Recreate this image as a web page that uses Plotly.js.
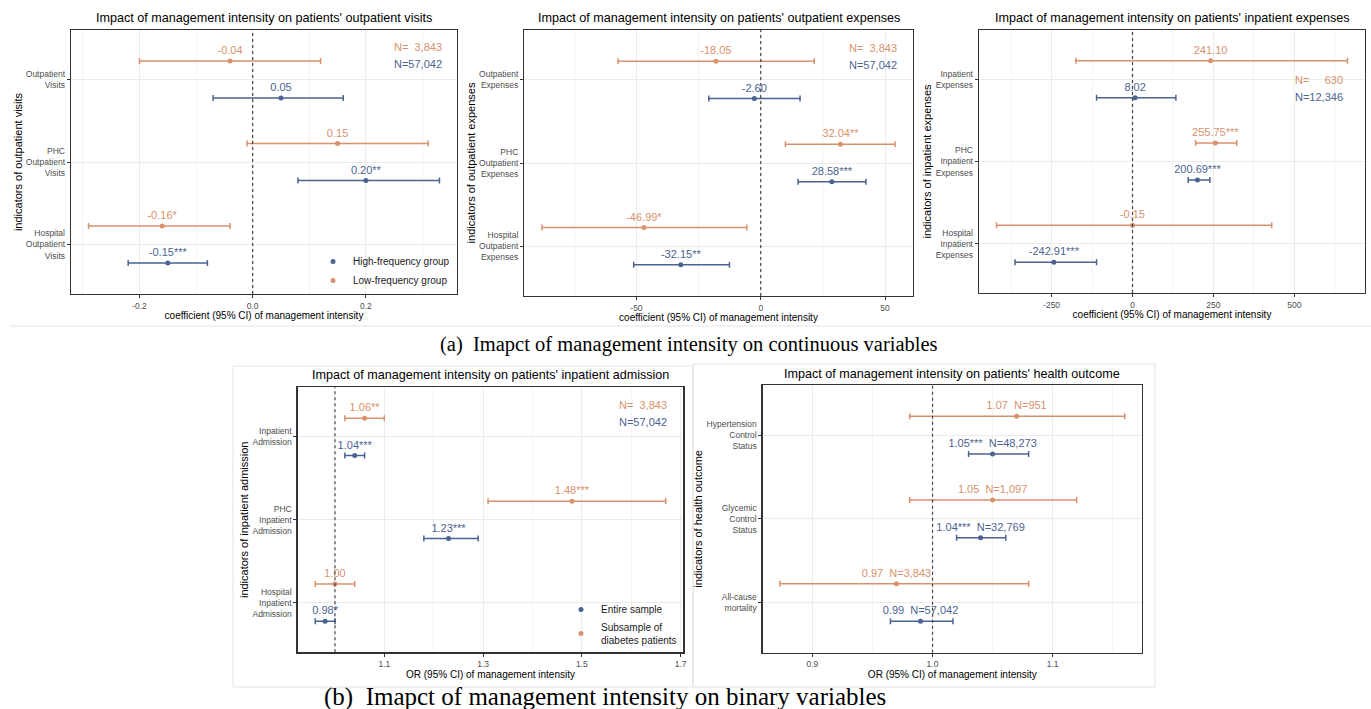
<!DOCTYPE html>
<html><head><meta charset="utf-8">
<script src="https://cdn.plot.ly/plotly-3.0.1.min.js"></script>
<style>html,body{margin:0;padding:0;background:#fff}</style>
</head><body><div id="chart" style="width:1371px;height:709px"></div>
<script>
// ---------------- data ----------------
// Panel 1: outpatient visits
const p1Categories = ['Outpatient<br>Visits', 'PHC<br>Outpatient<br>Visits', 'Hospital<br>Outpatient<br>Visits'];
const p1HighEst = [0.05, 0.20, -0.15];
const p1HighLow = [-0.07, 0.08, -0.22];
const p1HighUp  = [0.16, 0.33, -0.08];
const p1HighLabel = ['0.05', '0.20**', '-0.15***'];
const p1LowEst = [-0.04, 0.15, -0.16];
const p1LowLow = [-0.20, -0.01, -0.29];
const p1LowUp  = [0.12, 0.31, -0.04];
const p1LowLabel = ['-0.04', '0.15', '-0.16*'];
const p1TickVals = [-0.2, 0, 0.2];
const p1TickText = ['-0.2', '0.0', '0.2'];
const p1MinorVals = [-0.3, -0.1, 0.1, 0.3];

// Panel 2: outpatient expenses
const p2Categories = ['Outpatient<br>Expenses', 'PHC<br>Outpatient<br>Expenses', 'Hospital<br>Outpatient<br>Expenses'];
const p2HighEst = [-2.60, 28.58, -32.15];
const p2HighLow = [-20.9, 15.0, -51.1];
const p2HighUp  = [15.8, 42.3, -12.6];
const p2HighLabel = ['-2.60', '28.58***', '-32.15**'];
const p2LowEst = [-18.05, 32.04, -46.99];
const p2LowLow = [-57.4, 9.9, -88.0];
const p2LowUp  = [21.5, 54.0, -5.6];
const p2LowLabel = ['-18.05', '32.04**', '-46.99*'];
const p2TickVals = [-50, 0, 50];
const p2TickText = ['-50', '0', '50'];
const p2MinorVals = [-75, -25, 25];

// Panel 3: inpatient expenses
const p3Categories = ['Inpatient<br>Expenses', 'PHC<br>Inpatient<br>Expenses', 'Hospital<br>Inpatient<br>Expenses'];
const p3HighEst = [8.02, 200.69, -242.91];
const p3HighLow = [-111, 172, -363];
const p3HighUp  = [134, 239, -111];
const p3HighLabel = ['8.02', '200.69***', '-242.91***'];
const p3LowEst = [241.10, 255.75, -0.15];
const p3LowLow = [-175, 195, -420];
const p3LowUp  = [664, 322, 430];
const p3LowLabel = ['241.10', '255.75***', '-0.15'];
const p3TickVals = [-250, 0, 250, 500];
const p3TickText = ['-250', '0', '250', '500'];
const p3MinorVals = [-375, -125, 125, 375, 625];

// Panel 4: inpatient admission (OR)
const p4Categories = ['Inpatient<br>Admission', 'PHC<br>Inpatient<br>Admission', 'Hospital<br>Inpatient<br>Admission'];
const p4HighEst = [1.04, 1.23, 0.98];
const p4HighLow = [1.02, 1.18, 0.96];
const p4HighUp  = [1.06, 1.29, 1.00];
const p4HighLabel = ['1.04***', '1.23***', '0.98*'];
const p4LowEst = [1.06, 1.48, 1.00];
const p4LowLow = [1.02, 1.31, 0.96];
const p4LowUp  = [1.10, 1.67, 1.04];
const p4LowLabel = ['1.06**', '1.48***', '1.00'];
const p4TickVals = [1.1, 1.3, 1.5, 1.7];
const p4TickText = ['1.1', '1.3', '1.5', '1.7'];
const p4MinorVals = [1.0, 1.2, 1.4, 1.6];

// Panel 5: health outcome (OR)
const p5Categories = ['Hypertension<br>Control<br>Status', 'Glycemic<br>Control<br>Status', 'All-cause<br>mortality'];
const p5HighEst = [1.05, 1.04, 0.99];
const p5HighLow = [1.03, 1.02, 0.965];
const p5HighUp  = [1.08, 1.061, 1.017];
const p5HighLabel = ['1.05***\u00a0\u00a0N=48,273', '1.04***\u00a0\u00a0N=32,769', '0.99\u00a0\u00a0N=57,042'];
const p5LowEst = [1.07, 1.05, 0.97];
const p5LowLow = [0.981, 0.981, 0.873];
const p5LowUp  = [1.160, 1.120, 1.080];
const p5LowLabel = ['1.07\u00a0\u00a0N=951', '1.05\u00a0\u00a0N=1,097', '0.97\u00a0\u00a0N=3,843'];
const p5TickVals = [0.9, 1.0, 1.1];
const p5TickText = ['0.9', '1.0', '1.1'];
const p5MinorVals = [0.95, 1.05, 1.15];

// sample sizes shown in the corner
const p1N = ['N=\u00a0\u00a03,843', 'N=57,042'];
const p2N = ['N=\u00a0\u00a03,843', 'N=57,042'];
const p3N = ['N=\u00a0\u00a0\u00a0\u00a0\u00a0630', 'N=12,346'];
const p4N = ['N=\u00a0\u00a03,843', 'N=57,042'];

// ---------------- layout helpers ----------------
const W = 1371, H = 709;
const BLUE = '#4b6390', ORANGE = '#d8916c';
const FONT = 'Arial, "Liberation Sans", sans-serif';
const fx = v => v / W;
const fy = v => 1 - v / H;

const panels = [
  {n: 1, box: [71, 457, 30, 294], cats: p1Categories,
   high: [p1HighEst, p1HighLow, p1HighUp, p1HighLabel], low: [p1LowEst, p1LowLow, p1LowUp, p1LowLabel],
   tv: p1TickVals, tt: p1TickText, mv: p1MinorVals, ref: 0,
   title: "Impact of management intensity on patients' outpatient visits", titleY: 18,
   xtitle: 'coefficient (95% CI) of management intensity', ytitle: 'indicators of outpatient visits',
   names: ['High-frequency group', 'Low-frequency group'], legend: 'legend',
   N: p1N, nPos: [444, 47, 64]},
  {n: 2, box: [524.3, 912.7, 30, 296], cats: p2Categories,
   high: [p2HighEst, p2HighLow, p2HighUp, p2HighLabel], low: [p2LowEst, p2LowLow, p2LowUp, p2LowLabel],
   tv: p2TickVals, tt: p2TickText, mv: p2MinorVals, ref: 0,
   title: "Impact of management intensity on patients' outpatient expenses", titleY: 18,
   xtitle: 'coefficient (95% CI) of management intensity', ytitle: 'indicators of outpatient expenses',
   names: ['High-frequency group', 'Low-frequency group'], legend: null,
   N: p2N, nPos: [899, 48, 65]},
  {n: 3, box: [979, 1365, 30, 293], cats: p3Categories,
   high: [p3HighEst, p3HighLow, p3HighUp, p3HighLabel], low: [p3LowEst, p3LowLow, p3LowUp, p3LowLabel],
   tv: p3TickVals, tt: p3TickText, mv: p3MinorVals, ref: 0,
   title: "Impact of management intensity on patients' inpatient expenses", titleY: 18,
   xtitle: 'coefficient (95% CI) of management intensity', ytitle: 'indicators of inpatient expenses',
   names: ['High-frequency group', 'Low-frequency group'], legend: null,
   N: p3N, nPos: [1345, 80, 97]},
  {n: 4, box: [297.7, 683.3, 387.3, 652.3], cats: p4Categories,
   high: [p4HighEst, p4HighLow, p4HighUp, p4HighLabel], low: [p4LowEst, p4LowLow, p4LowUp, p4LowLabel],
   tv: p4TickVals, tt: p4TickText, mv: p4MinorVals, ref: 1,
   title: "Impact of management intensity on patients' inpatient admission", titleY: 375.5,
   xtitle: 'OR (95% CI) of management intensity', ytitle: 'indicators of inpatient admission',
   names: ['Entire sample', 'Subsample of<br>diabetes patients'], legend: 'legend2',
   N: p4N, nPos: [669, 405, 421.7]},
  {n: 5, box: [762.7, 1142, 385, 652.7], cats: p5Categories,
   high: [p5HighEst, p5HighLow, p5HighUp, p5HighLabel], low: [p5LowEst, p5LowLow, p5LowUp, p5LowLabel],
   tv: p5TickVals, tt: p5TickText, mv: p5MinorVals, ref: 1,
   title: "Impact of management intensity on patients' health outcome", titleY: 374,
   xtitle: 'OR (95% CI) of management intensity', ytitle: 'indicators of health outcome',
   names: ['Entire sample', 'Subsample'], legend: null,
   N: null}
];

const data = [];
const layout = {
  width: W, height: H, margin: {l: 0, r: 0, t: 0, b: 0},
  paper_bgcolor: '#fff', plot_bgcolor: '#fff',
  font: {family: FONT, color: '#000'},
  showlegend: true, hovermode: false,
  annotations: [], shapes: [],
  legend: {x: fx(313), y: fy(247), xanchor: 'left', yanchor: 'top', font: {size: 10, family: FONT, color: '#1a1a1a'},
           bgcolor: 'rgba(255,255,255,0)', itemwidth: 30, tracegroupgap: 0},
  legend2: {x: fx(561), y: fy(595), xanchor: 'left', yanchor: 'top', font: {size: 10, family: FONT, color: '#1a1a1a'},
            bgcolor: 'rgba(255,255,255,0)', itemwidth: 30, tracegroupgap: 0}
};

const catPos = [3, 2, 1];
const DODGE = 0.225;

panels.forEach(p => {
  const n = p.n;
  const xa = 'x' + n, ya = 'y' + n;
  const allLow = p.high[1].concat(p.low[1]);
  const allUp = p.high[2].concat(p.low[2]);
  const lo = Math.min(...allLow), hi = Math.max(...allUp);
  const pad = (hi - lo) * 0.05;

  const series = [
    {d: p.high, color: BLUE, name: p.names[0], off: -DODGE},
    {d: p.low, color: ORANGE, name: p.names[1], off: DODGE}
  ];
  series.forEach(s => {
    const [est, low, up, lab] = s.d;
    const tr = {
      type: 'scatter', mode: 'markers+text',
      x: est, y: catPos.map(c => c + s.off),
      xaxis: xa, yaxis: ya,
      name: s.name,
      marker: {color: s.color, size: 5},
      error_x: {type: 'data', symmetric: false,
                array: est.map((e, i) => up[i] - e),
                arrayminus: est.map((e, i) => e - low[i]),
                color: s.color, thickness: 1.5, width: 3},
      text: lab, textposition: 'top center',
      textfont: {color: s.color, size: 11, family: FONT},
      cliponaxis: false,
      showlegend: !!p.legend
    };
    if (p.legend) tr.legend = p.legend;
    data.push(tr);
  });

  const [x0, x1, y0, y1] = p.box;
  const axKey = n === 1 ? '' : String(n);
  layout['xaxis' + axKey] = {
    domain: [fx(x0), fx(x1)], anchor: ya,
    range: [lo - pad, hi + pad],
    tickmode: 'array', tickvals: p.tv, ticktext: p.tt,
    tickfont: {size: 8.5, color: '#4d4d4d', family: FONT},
    ticks: 'outside', ticklen: 3, tickwidth: 1, tickcolor: '#333',
    showline: true, mirror: true, linecolor: '#333', linewidth: 1.3,
    showgrid: true, gridcolor: '#ebebeb', gridwidth: 1, zeroline: false,
    minor: {tickmode: 'array', tickvals: p.mv, showgrid: true, gridcolor: '#f3f3f3', gridwidth: 1, ticks: ''},
    title: {text: p.xtitle, font: {size: 10, family: FONT, color: '#000'}, standoff: 2},
    fixedrange: true
  };
  layout['yaxis' + axKey] = {
    domain: [fy(y1), fy(y0)], anchor: xa,
    range: [0.4, 3.6],
    tickmode: 'array', tickvals: catPos, ticktext: p.cats,
    tickfont: {size: 8.5, color: '#4d4d4d', family: FONT},
    ticks: 'outside', ticklen: 3, tickwidth: 1, tickcolor: '#333',
    showline: true, mirror: true, linecolor: '#333', linewidth: 1.3,
    showgrid: true, gridcolor: '#ebebeb', gridwidth: 1, zeroline: false,
    title: {text: p.ytitle, font: {size: 11, family: FONT, color: '#000'}, standoff: 1},
    fixedrange: true
  };

  // reference line (no effect)
  layout.shapes.push({type: 'line', xref: xa, yref: ya + ' domain', x0: p.ref, x1: p.ref, y0: 0, y1: 1,
                      line: {color: '#444', width: 1.2, dash: '3px,3px'}});

  // panel title
  layout.annotations.push({xref: 'paper', yref: 'paper', x: fx((x0 + x1) / 2), y: fy(p.titleY),
    text: p.title, showarrow: false, xanchor: 'center', yanchor: 'middle',
    font: {size: 12.6, family: FONT, color: '#000'}});

  // sample sizes
  if (p.N) {
    layout.annotations.push({xref: 'paper', yref: 'paper', x: fx(p.nPos[0]), y: fy(p.nPos[1]),
      text: p.N[0], showarrow: false, xanchor: 'right', yanchor: 'middle',
      font: {size: 11, family: FONT, color: ORANGE}});
    layout.annotations.push({xref: 'paper', yref: 'paper', x: fx(p.nPos[0]), y: fy(p.nPos[2]),
      text: p.N[1], showarrow: false, xanchor: 'right', yanchor: 'middle',
      font: {size: 11, family: FONT, color: BLUE}});
  }
});

// captions
layout.annotations.push({xref: 'paper', yref: 'paper', x: fx(689), y: fy(344),
  text: '(a)\u00a0\u00a0Imapct of management intensity on continuous variables', showarrow: false,
  xanchor: 'center', yanchor: 'middle', font: {size: 20.5, family: '"Liberation Serif", "Times New Roman", serif', color: '#000'}});
layout.annotations.push({xref: 'paper', yref: 'paper', x: fx(605), y: fy(697),
  text: '(b)\u00a0\u00a0Imapct of management intensity on binary variables', showarrow: false,
  xanchor: 'center', yanchor: 'middle', font: {size: 25, family: '"Liberation Serif", "Times New Roman", serif', color: '#000'}});

// faint figure frames
const frameLine = {color: '#e3e3e3', width: 1};
layout.shapes.push({type: 'line', xref: 'paper', yref: 'paper', x0: fx(10), x1: fx(1371), y0: fy(326), y1: fy(326), line: frameLine});
layout.shapes.push({type: 'rect', xref: 'paper', yref: 'paper', x0: fx(233), x1: fx(693), y0: fy(687), y1: fy(366), line: frameLine});
layout.shapes.push({type: 'rect', xref: 'paper', yref: 'paper', x0: fx(693), x1: fx(1155), y0: fy(687), y1: fy(364), line: frameLine});

Plotly.newPlot('chart', data, layout, {displayModeBar: false, staticPlot: true});
</script>
</body></html>
